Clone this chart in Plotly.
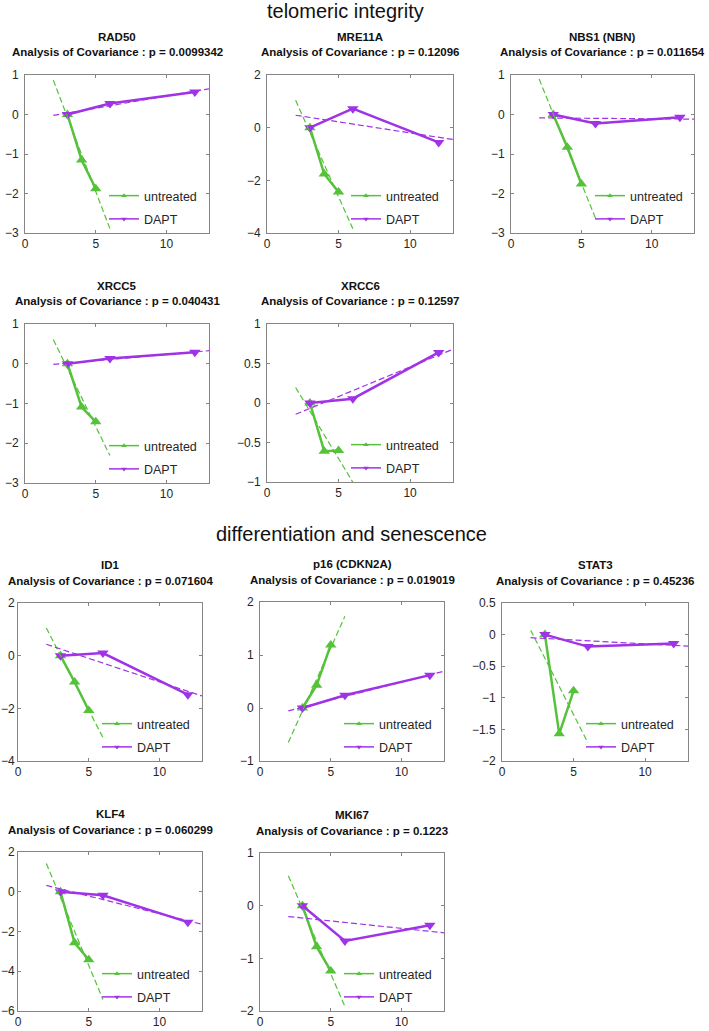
import numpy as np
import plotly.graph_objects as go

# ---------------- data ----------------
SECTIONS = ["telomeric integrity", "differentiation and senescence"]
GENES = ["RAD50", "MRE11A", "NBS1 (NBN)", "XRCC5", "XRCC6",
         "ID1", "p16 (CDKN2A)", "STAT3", "KLF4", "MKI67"]
P_VALUES = ["0.0099342", "0.12096", "0.011654", "0.040431", "0.12597",
            "0.071604", "0.019019", "0.45236", "0.060299", "0.1223"]
SERIES = ["untreated", "DAPT"]

X_UNTREATED = [3, 4, 5]
X_DAPT = [3, 6, 12]
FIT_X_UNTREATED = [2, 6]
FIT_X_DAPT = [2, 13]

RAD50_UNTREATED = [0, -1.15, -1.88]
RAD50_DAPT = [0, 0.28, 0.57]
MRE11A_UNTREATED = [0, -1.76, -2.44]
MRE11A_DAPT = [0, 0.72, -0.56]
NBS1_UNTREATED = [0, -0.83, -1.76]
NBS1_DAPT = [0, -0.23, -0.07]
XRCC5_UNTREATED = [0, -1.09, -1.46]
XRCC5_DAPT = [0, 0.13, 0.29]
XRCC6_UNTREATED = [0, -0.61, -0.60]
XRCC6_DAPT = [0, 0.055, 0.64]
ID1_UNTREATED = [0, -1.0, -2.08]
ID1_DAPT = [0, 0.10, -1.48]
P16_UNTREATED = [0, 0.43, 1.19]
P16_DAPT = [0, 0.24, 0.62]
STAT3_UNTREATED = [0, -1.57, -0.89]
STAT3_DAPT = [0, -0.19, -0.14]
KLF4_UNTREATED = [0, -2.57, -3.42]
KLF4_DAPT = [0, -0.18, -1.53]
MKI67_UNTREATED = [0, -0.78, -1.24]
MKI67_DAPT = [0, -0.67, -0.37]

UNTREATED = [RAD50_UNTREATED, MRE11A_UNTREATED, NBS1_UNTREATED, XRCC5_UNTREATED,
             XRCC6_UNTREATED, ID1_UNTREATED, P16_UNTREATED, STAT3_UNTREATED,
             KLF4_UNTREATED, MKI67_UNTREATED]
DAPT = [RAD50_DAPT, MRE11A_DAPT, NBS1_DAPT, XRCC5_DAPT, XRCC6_DAPT,
        ID1_DAPT, P16_DAPT, STAT3_DAPT, KLF4_DAPT, MKI67_DAPT]

Y_RANGES = [[-3, 1], [-4, 2], [-3, 1], [-3, 1], [-1, 1],
            [-4, 2], [-1, 2], [-2, 0.5], [-6, 2], [-2, 1]]
Y_DTICKS = [1, 2, 1, 1, 0.5, 2, 1, 0.5, 2, 1]
X_RANGE = [0, 13]
X_TICKS = [0, 5, 10]

# ---------------- style / layout ----------------
W, H = 709, 1031
GREEN = "#55C23A"
PURPLE = "#A033E6"
AXIS_GREY = "#858585"
TEXT = "#262626"
FONT = "Arial, 'Liberation Sans', Helvetica, sans-serif"

# panel boxes in pixels: left, top, right, bottom
BOXES = [(25, 75, 209, 233), (267, 75, 453, 233), (511, 75, 694, 233),
         (25, 324, 209, 483), (267, 324, 453, 482),
         (18, 603, 202, 761), (260, 602, 444, 761), (502, 603, 688, 761),
         (18, 852, 202, 1011), (260, 853, 444, 1011)]
SECTION_POS = [(345, 11), (351, 534)]

fig = go.Figure()
layout = dict(width=W, height=H, margin=dict(l=0, r=0, t=0, b=0, autoexpand=False),
              paper_bgcolor="white", plot_bgcolor="white",
              font=dict(family=FONT, color=TEXT), showlegend=True,
              annotations=[])


def px(x):
    return x / W


def py(y):
    return 1 - y / H


for i, gene in enumerate(GENES):
    n = i + 1
    xa = "x" if n == 1 else f"x{n}"
    ya = "y" if n == 1 else f"y{n}"
    xk = "xaxis" if n == 1 else f"xaxis{n}"
    yk = "yaxis" if n == 1 else f"yaxis{n}"
    lk = "legend" if n == 1 else f"legend{n}"
    l, t, r, b = BOXES[i]
    common = dict(showline=True, linecolor=AXIS_GREY, linewidth=1, mirror="ticks",
                  ticks="inside", ticklen=3, tickcolor=AXIS_GREY, showgrid=False,
                  zeroline=False, automargin=False, fixedrange=True,
                  tickfont=dict(size=12, color=TEXT, family=FONT))
    layout[xk] = dict(domain=[px(l), px(r)], range=X_RANGE, tickvals=X_TICKS,
                      anchor=ya, **common)
    layout[yk] = dict(domain=[py(b), py(t)], range=Y_RANGES[i], dtick=Y_DTICKS[i],
                      tick0=0, anchor=xa, ticklabelstandoff=(3 if l > 20 else 0),
                      **common)

    yu = UNTREATED[i]
    yd = DAPT[i]
    # measured profiles
    fig.add_trace(go.Scatter(x=X_UNTREATED, y=yu, xaxis=xa, yaxis=ya,
                             mode="lines+markers", showlegend=False, hoverinfo="skip",
                             line=dict(color=GREEN, width=2.5),
                             marker=dict(symbol="triangle-up", size=10, color=GREEN)))
    fig.add_trace(go.Scatter(x=X_DAPT, y=yd, xaxis=xa, yaxis=ya,
                             mode="lines+markers", showlegend=False, hoverinfo="skip",
                             line=dict(color=PURPLE, width=2.5),
                             marker=dict(symbol="triangle-down", size=10, color=PURPLE)))
    # linear fits
    cu = np.polyfit(X_UNTREATED, yu, 1)
    cd = np.polyfit(X_DAPT, yd, 1)
    fig.add_trace(go.Scatter(x=FIT_X_UNTREATED, y=np.polyval(cu, FIT_X_UNTREATED),
                             xaxis=xa, yaxis=ya, mode="lines", showlegend=False,
                             hoverinfo="skip",
                             line=dict(color=GREEN, width=1.2, dash="6px,3px")))
    fig.add_trace(go.Scatter(x=FIT_X_DAPT, y=np.polyval(cd, FIT_X_DAPT),
                             xaxis=xa, yaxis=ya, mode="lines", showlegend=False,
                             hoverinfo="skip",
                             line=dict(color=PURPLE, width=1.2, dash="6px,3px")))
    # legend entries
    for name, col, sym in zip(SERIES, [GREEN, PURPLE], ["triangle-up", "triangle-down"]):
        fig.add_trace(go.Scatter(x=[None], y=[None], xaxis=xa, yaxis=ya,
                                 mode="lines+markers", name=name, legend=lk,
                                 legendgroup=f"{lk}_{name}", showlegend=True,
                                 line=dict(color=col, width=1.5),
                                 marker=dict(symbol=sym, size=5, color=col)))
    layout[lk] = dict(x=px(l + 120 - 41), xanchor="left",
                      y=py(b - 25.5), yanchor="middle",
                      bgcolor="rgba(0,0,0,0)", borderwidth=0,
                      font=dict(size=12.5, color=TEXT, family=FONT),
                      tracegroupgap=4, itemwidth=30, itemclick=False)

    cx = (l + r) / 2
    layout["annotations"].append(dict(
        text=f"<b>{gene}</b>", x=px(cx), y=py(t - 38), xref="paper", yref="paper",
        xanchor="center", yanchor="middle", showarrow=False,
        font=dict(size=11.5, color="#111111", family=FONT)))
    layout["annotations"].append(dict(
        text=f"<b>Analysis of Covariance : p = {P_VALUES[i]}</b>", x=px(cx),
        y=py(t - 22.5), xref="paper", yref="paper",
        xanchor="center", yanchor="middle", showarrow=False,
        font=dict(size=11.5, color="#111111", family=FONT)))

for s, (sx, sy) in zip(SECTIONS, SECTION_POS):
    layout["annotations"].append(dict(
        text=s, x=px(sx), y=py(sy), xref="paper", yref="paper",
        xanchor="center", yanchor="middle", showarrow=False,
        font=dict(size=20, color="#111111", family=FONT)))

fig.update_layout(**layout)
fig.write_html("out.html", config={"displayModeBar": False},
               post_script="document.body.style.margin='0';"
                           "document.body.style.overflow='hidden';")
